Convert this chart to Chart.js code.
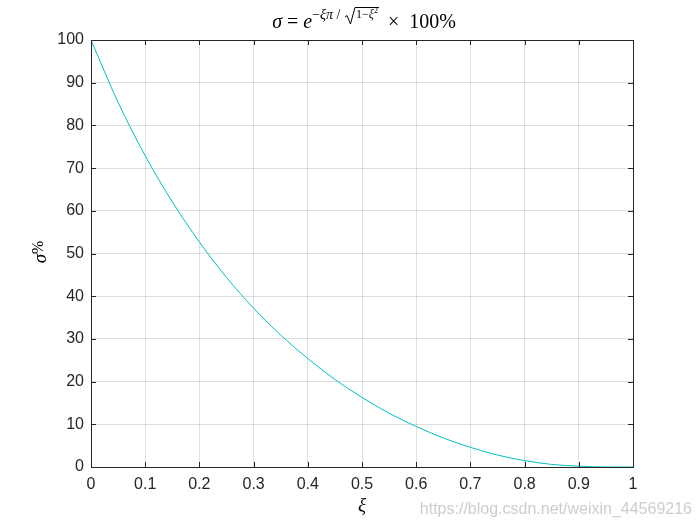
<html lang="en">
  <head>
    <title>Overshoot vs damping ratio</title>
    <script type="text/javascript" src="https://cdn.jsdelivr.net/npm/chart.js"></script>
    <style>
      body { margin: 0; background: #fff; }
      #wrap { width: 700px; height: 525px; }
    </style>
  </head>
  <body>
    <div id="wrap"><canvas id="myChart" width="700" height="525"></canvas></div>
    <script>
      // damping ratio xi and overshoot sigma (%)
      const xi = [0, 0.05, 0.1, 0.15, 0.2, 0.25, 0.3, 0.35, 0.4, 0.45, 0.5,
                  0.55, 0.6, 0.65, 0.7, 0.75, 0.8, 0.85, 0.9, 0.95, 1];
      const sigma = [100, 85.4, 72.9, 62.1, 52.7, 44.4, 37.2, 30.9, 25.4, 20.5, 16.3,
                     12.6, 9.5, 6.8, 4.6, 2.8, 1.5, 0.6, 0.2, 0.0, 0];
      const xTicks = [0, 0.1, 0.2, 0.3, 0.4, 0.5, 0.6, 0.7, 0.8, 0.9, 1];
      const yTicks = [0, 10, 20, 30, 40, 50, 60, 70, 80, 90, 100];

      const serif = '"Liberation Serif", "DejaVu Serif", serif';
      const sans = '"Liberation Sans", Arial, sans-serif';

      // box, inward ticks, title, labels, watermark
      const matlabLook = {
        id: 'matlabLook',
        afterDatasetsDraw(chart) {
          const { ctx, chartArea: a, scales } = chart;
          ctx.save();
          ctx.strokeStyle = '#262626';
          ctx.lineWidth = 1;
          ctx.beginPath();
          xTicks.forEach(v => {
            const px = Math.round(scales.x.getPixelForValue(v)) + 0.5;
            ctx.moveTo(px, a.bottom); ctx.lineTo(px, a.bottom - 5);
            ctx.moveTo(px, a.top); ctx.lineTo(px, a.top + 5);
          });
          yTicks.forEach(v => {
            const py = Math.round(scales.y.getPixelForValue(v)) + 0.5;
            ctx.moveTo(a.left, py); ctx.lineTo(a.left + 5, py);
            ctx.moveTo(a.right, py); ctx.lineTo(a.right - 5, py);
          });
          ctx.stroke();
          ctx.strokeRect(Math.round(a.left) + 0.5, Math.round(a.top) + 0.5,
                         Math.round(a.right - a.left), Math.round(a.bottom - a.top));
          ctx.restore();
        },
        afterDraw(chart) {
          const { ctx, chartArea: a } = chart;
          ctx.save();
          ctx.fillStyle = '#000';
          ctx.textBaseline = 'alphabetic';
          ctx.textAlign = 'left';

          // title: sigma = e^{-xi pi / sqrt(1 - xi^2)} x 100%
          const big = '20px ' + serif, bigI = 'italic 20px ' + serif;
          const sm = '14px ' + serif, smI = 'italic 14px ' + serif;
          const base = 28;
          const parts = [
            { t: 'σ', f: bigI, dy: 0 },
            { t: ' = ', f: big, dy: 0 },
            { t: 'e', f: bigI, dy: 0 },
            { t: '−', f: sm, dy: -9 },
            { t: 'ξπ', f: smI, dy: -9 },
            { t: ' / ', f: sm, dy: -9 },
            { t: '', f: sm, dy: 0, root: 12 },
            { t: '1−', f: '12px ' + serif, dy: -10, over: true },
            { t: 'ξ', f: 'italic 12px ' + serif, dy: -10, over: true },
            { t: '2', f: '8px ' + serif, dy: -15, over: true },
            { t: '  ×  100%', f: big, dy: 0 }
          ];
          let total = 0;
          parts.forEach(p => {
            ctx.font = p.f;
            p.w = p.root ? p.root : ctx.measureText(p.t).width;
            total += p.w;
          });
          let x = (a.left + a.right) / 2 + 2 - total / 2;
          let overStart = null, overEnd = null, rootX = 0;
          parts.forEach(p => {
            ctx.font = p.f;
            if (p.root) rootX = x;
            else ctx.fillText(p.t, x, base + p.dy);
            if (p.over) { if (overStart === null) overStart = x; overEnd = x + p.w; }
            x += p.w;
          });
          ctx.strokeStyle = '#000';
          ctx.lineWidth = 1;
          ctx.beginPath();
          ctx.moveTo(rootX + 1, 17);
          ctx.lineTo(rootX + 3, 15.5);
          ctx.lineTo(rootX + 6.5, 24);
          ctx.lineTo(rootX + 11, 7.5);
          ctx.lineTo(overEnd + 1, 7.5);
          ctx.stroke();

          // x label
          ctx.font = 'italic 19px ' + serif;
          ctx.textAlign = 'center';
          ctx.fillText('ξ', (a.left + a.right) / 2, 511);

          // y label, rotated
          ctx.save();
          ctx.translate(46, 252);
          ctx.rotate(-Math.PI / 2);
          ctx.textAlign = 'left';
          ctx.font = 'italic 19px ' + serif;
          const sw = ctx.measureText('σ').width;
          ctx.font = '16px ' + serif;
          const pw = ctx.measureText('%').width;
          const sx = -(sw + pw) / 2;
          ctx.font = 'italic 19px ' + serif;
          ctx.fillText('σ', sx, 0);
          ctx.font = '16px ' + serif;
          ctx.fillText('%', sx + sw, -3);
          ctx.restore();

          // watermark
          ctx.font = '16px ' + sans;
          ctx.fillStyle = 'rgba(200,200,200,0.9)';
          ctx.textAlign = 'right';
          ctx.fillText('https://blog.csdn.net/weixin_44569216', 692, 514);
          ctx.restore();
        }
      };

      const ctx = document.getElementById('myChart').getContext('2d');

      new Chart(ctx, {
        type: 'line',
        data: {
          datasets: [{
            data: xi.map((v, i) => ({ x: v, y: sigma[i] })),
            borderColor: 'rgb(0,191,191)',
            borderWidth: 1,
            pointRadius: 0,
            cubicInterpolationMode: 'monotone',
            fill: false
          }]
        },
        options: {
          responsive: false,
          animation: false,
          layout: { padding: { top: 40, right: 67, left: 0, bottom: 0 } },
          plugins: { legend: { display: false }, tooltip: { enabled: false } },
          scales: {
            x: {
              type: 'linear', min: 0, max: 1,
              afterBuildTicks: s => { s.ticks = xTicks.map(v => ({ value: v })); },
              afterFit: s => { s.height = 58; },
              grid: { color: 'rgba(38,38,38,0.15)', drawTicks: false },
              border: { display: false },
              ticks: { color: '#262626', font: { family: sans, size: 16 }, padding: 8,
                       maxRotation: 0, callback: v => String(v) }
            },
            y: {
              min: 0, max: 100,
              afterBuildTicks: s => { s.ticks = yTicks.map(v => ({ value: v })); },
              afterFit: s => { s.width = 91; },
              grid: { color: 'rgba(38,38,38,0.15)', drawTicks: false },
              border: { display: false },
              ticks: { color: '#262626', font: { family: sans, size: 16 }, padding: 7 }
            }
          }
        },
        plugins: [matlabLook]
      });
    </script>
  </body>
</html>
